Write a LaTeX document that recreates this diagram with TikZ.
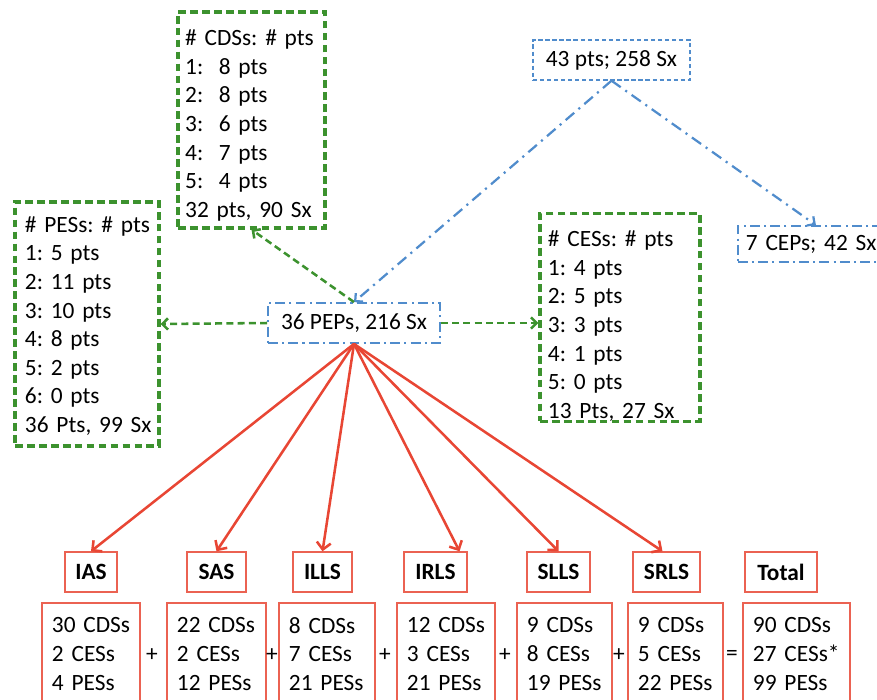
\documentclass[tikz,border=0pt]{standalone}
\usepackage{fontspec}
\setmainfont{Carlito}
\usetikzlibrary{arrows.meta}
\definecolor{boxgreen}{RGB}{60,146,46}
\definecolor{boxblue}{RGB}{80,140,204}
\definecolor{boxred}{RGB}{232,70,52}

\begin{document}
\begin{tikzpicture}[x=0.025cm, y=-0.025cm,
    every node/.style={font=\fontsize{16.6}{20.3}\selectfont\frenchspacing},
    listbox/.style={draw=boxgreen, line width=2.2pt, dash pattern=on 5.5pt off 3pt,
        align=left, inner ysep=0pt, execute at begin node={\rule{0pt}{#1}}},
    ptsbox/.style={draw=boxblue, line width=1.3pt, inner sep=0pt,
        dash pattern=on 7pt off 3pt on 1.5pt off 3pt},
    labelbox/.style={draw=boxred!85, line width=1pt, font=\fontsize{16.6}{20.3}\selectfont\bfseries,
        minimum height=1cm, inner sep=0pt},
    countbox/.style={draw=boxred!85, line width=1pt, align=left, inner xsep=0.25cm,
        minimum height=2.55cm},
    greenarrow/.style={draw=boxgreen, line width=1.8pt, dash pattern=on 5pt off 3pt,
        -{Straight Barb[length=4pt, width=8pt]}},
    bluearrow/.style={draw=boxblue, line width=1.6pt, dash pattern=on 8pt off 4pt on 1.5pt off 4pt,
        -{Straight Barb[length=4pt, width=8pt]}},
    redarrow/.style={draw=boxred, line width=1.8pt, -{Straight Barb[length=5pt, width=10pt]}}
]
    \useasboundingbox (0,0) rectangle (877,699);

    \node[ptsbox, line width=1pt, dash pattern=on 3pt off 2pt, minimum width=3.925cm, minimum height=1cm]
        (all) at (611.5,60) {43 pts; 258 Sx};
    \node[ptsbox, minimum width=4.3cm, minimum height=1cm] (pep) at (354,323) {36 PEPs, 216 Sx};
    \node[ptsbox, anchor=west, align=left, inner xsep=0.2cm, text width=3.5cm, minimum height=0.9cm]
        (cep) at (737,244) {7~CEPs;~42~Sx};

    \node[listbox=19pt, inner xsep=0.18cm, text width=3.315cm, minimum height=5.4cm] (cds) at (251.5,120)
        {\#~CDSs:~\#~pts\\1:\ \ 8 pts\\2:\ \ 8 pts\\3:\ \ 6 pts\\4:\ \ 7 pts\\5:\ \ 4 pts\\32~pts,~90~Sx};
    \node[listbox=14pt, inner xsep=0.25cm, text width=3.1cm, minimum height=6.1cm] (pes) at (87,324)
        {\#~PESs:~\#~pts\\1: 5 pts\\2: 11 pts\\3: 10 pts\\4: 8 pts\\5: 2 pts\\6: 0 pts\\36~Pts,~99~Sx};
    \node[listbox=23.5pt, inner xsep=0.2cm, text width=3.6cm, minimum height=5.125cm] (ces) at (620,317.5)
        {\#~CESs:~\#~pts\\1: 4 pts\\2: 5 pts\\3: 3 pts\\4: 1 pts\\5: 0 pts\\13~Pts,~27~Sx};

    \node[labelbox, minimum width=1.3cm] (ias) at (91,572) {IAS};
    \node[labelbox, minimum width=1.475cm] (sas) at (216.5,572) {SAS};
    \node[labelbox, minimum width=1.475cm] (ills) at (322.5,572) {ILLS};
    \node[labelbox, minimum width=1.575cm] (irls) at (435.5,572) {IRLS};
    \node[labelbox, minimum width=1.575cm] (slls) at (558.5,572) {SLLS};
    \node[labelbox, minimum width=1.675cm] (srls) at (666.5,572) {SRLS};
    \node[labelbox, minimum width=1.8cm] (total) at (781,572) {Total};

    \node[countbox, text width=1.95cm] (iasn) at (91,654) {30~CDSs\\2~CESs\\4~PESs};
    \node[countbox, text width=1.975cm] (sasn) at (216.5,654) {22~CDSs\\2~CESs\\12~PESs};
    \node[countbox, text width=1.9cm] (illsn) at (327,654) {8~CDSs\\7~CESs\\21~PESs};
    \node[countbox, text width=1.95cm] (irlsn) at (446,654) {12~CDSs\\3~CESs\\21~PESs};
    \node[countbox, text width=1.875cm] (sllsn) at (564.5,654) {9~CDSs\\8~CESs\\19~PESs};
    \node[countbox, text width=1.875cm] (srlsn) at (675.5,654) {9~CDSs\\5~CESs\\22~PESs};
    \node[countbox, text width=2.175cm] (totaln) at (796.5,654) {90~CDSs\\27~CESs*\\99~PESs};

    \node (plus1) at (152,655) {+};
    \node (plus2) at (272,655) {+};
    \node (plus3) at (385,655) {+};
    \node (plus4) at (505,655) {+};
    \node (plus5) at (619,655) {+};
    \node (equals) at (732,655) {=};

    \draw[bluearrow] (all.south) -- (pep.north);
    \draw[bluearrow] (all.south) -- (cep.north);
    \draw[greenarrow] (pep.north) -- (cds.south);
    \draw[greenarrow] (pep.west) -- (pes.east);
    \draw[greenarrow] (pep.east) -- (pep.east -| ces.west);

    \draw[redarrow] (pep.south) -- (ias.north);
    \draw[redarrow] (pep.south) -- (sas.north);
    \draw[redarrow] (pep.south) -- (ills.north);
    \draw[redarrow] (pep.south) -- ([xshift=0.6cm]irls.north);
    \draw[redarrow] (pep.south) -- (slls.north);
    \draw[redarrow] (pep.south) -- ([xshift=-0.1cm]srls.north);
\end{tikzpicture}
\end{document}
